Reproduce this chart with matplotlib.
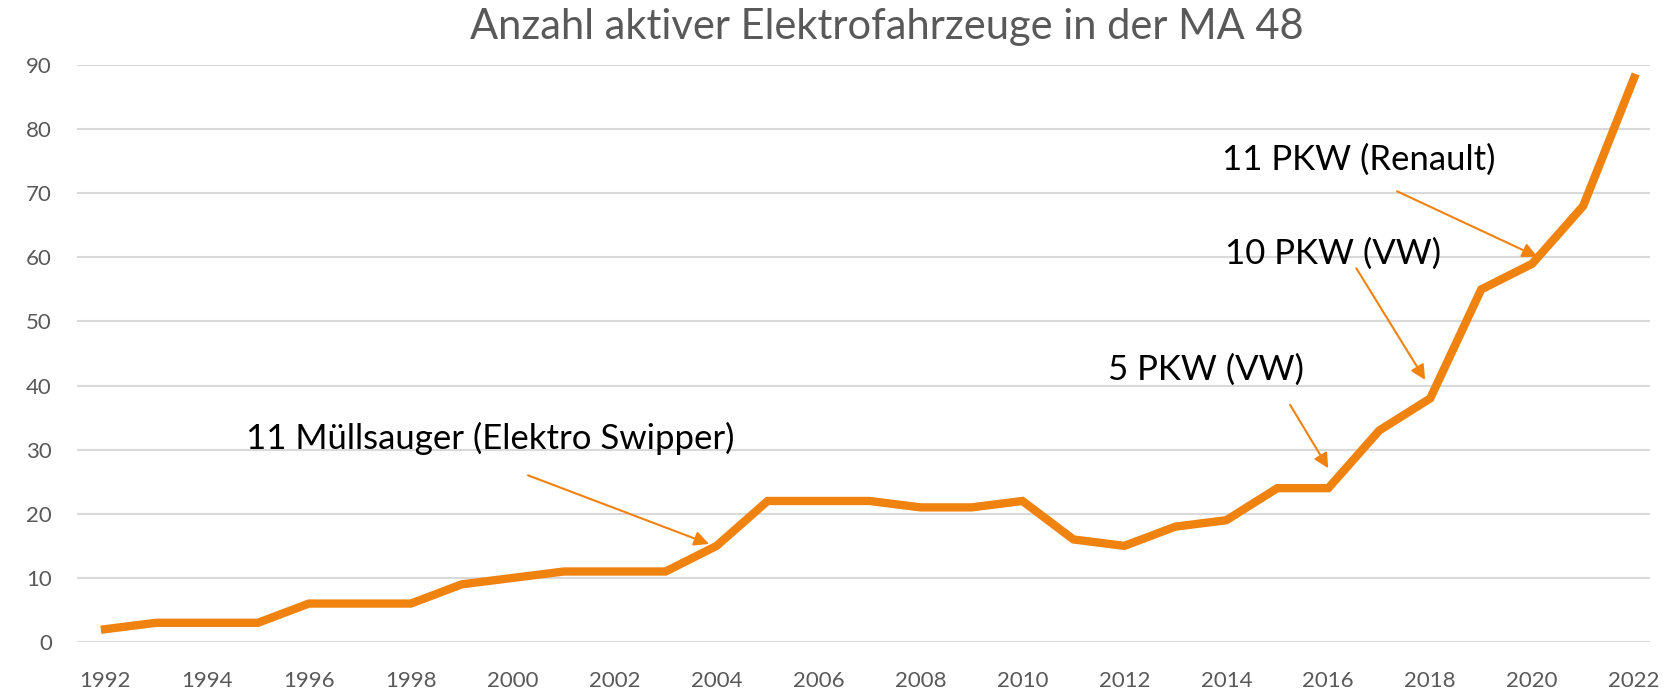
import matplotlib.pyplot as plt

plt.rcParams['font.family'] = ['Lato', 'DejaVu Sans']

years = list(range(1992, 2023))
fahrzeuge = [2, 3, 3, 3, 6, 6, 6, 9, 10, 11, 11, 11, 15, 22, 22, 22, 21, 21, 22,
             16, 15, 18, 19, 24, 24, 33, 38, 55, 59, 68, 88]

# annotation texts: (text, text position, arrow start, arrow tip) in data units
notes = [
    ("11 Müllsauger (Elektro Swipper)", (1999.55, 31.7), (2000.3, 26.0), (2003.85, 15.3)),
    ("5 PKW (VW)", (2013.6, 42.4), (2015.25, 37.0), (2016.0, 27.1)),
    ("10 PKW (VW)", (2016.1, 60.5), (2016.55, 58.3), (2017.9, 40.9)),
    ("11 PKW (Renault)", (2016.6, 75.3), (2017.35, 70.3), (2020.1, 60.1)),
]

orange = "#F0820F"
grey = "#595959"

fig = plt.figure(figsize=(16.8, 6.99), dpi=100)
ax = fig.add_axes([0.0458, 0.0815, 0.9363, 0.8255])

ax.plot(years, fahrzeuge, color=orange, linewidth=6, solid_joinstyle="miter")

ax.set_xlim(1991.45, 2022.31)
ax.set_ylim(0, 90)
ax.set_xticks(years[::2])
ax.set_yticks(range(0, 91, 10))
ax.grid(axis="y", color="#D9D9D9", linewidth=1.5)
ax.set_axisbelow(True)
for s in ax.spines.values():
    s.set_visible(False)
ax.tick_params(axis="both", length=0, labelsize=16, labelcolor=grey)
ax.tick_params(axis="x", pad=21)
ax.tick_params(axis="y", pad=18)

for txt, pos, start, tip in notes:
    ax.text(pos[0], pos[1], txt, fontsize=25, color="black", ha="center", va="center")
    ax.annotate("", xy=tip, xytext=start,
                arrowprops=dict(arrowstyle="-|>", color=orange, lw=1.5,
                                mutation_scale=22, shrinkA=0, shrinkB=0))

fig.text(0.528, 0.962, "Anzahl aktiver Elektrofahrzeuge in der MA 48",
         fontsize=30, color=grey, ha="center", va="center")

plt.savefig("out.png", dpi=100)
